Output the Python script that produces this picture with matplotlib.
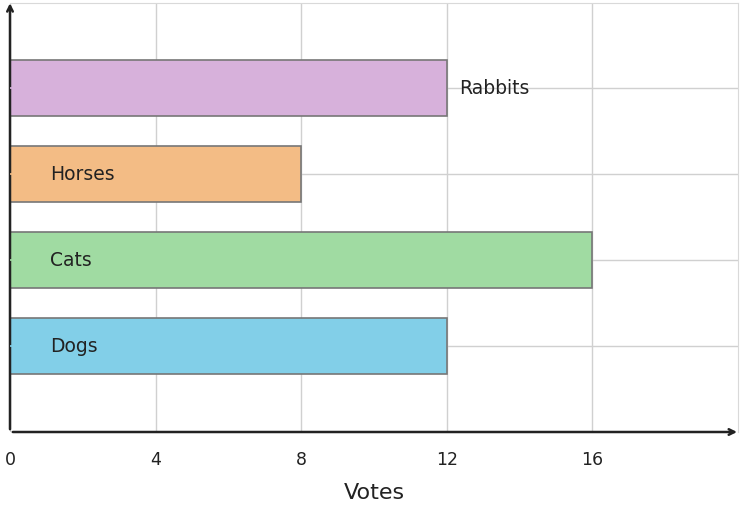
import matplotlib
matplotlib.use("Agg")
import matplotlib.pyplot as plt

categories = ["Dogs", "Cats", "Horses", "Rabbits"]
votes = [12, 16, 8, 12]
colors = ["#82CFE8", "#A0DBA2", "#F3BC85", "#D7B1DB"]
xticks = [0, 4, 8, 12, 16]

fig = plt.figure(figsize=(7.42, 5.08), dpi=100)
ax = fig.add_axes([10/742, 76/508, 728/742, 429/508])
ys = list(range(len(categories)))
ax.barh(ys, votes, height=0.65, color=colors, edgecolor="#777777", linewidth=1.2, zorder=3)
for y, v, c, col in zip(ys, votes, categories, colors):
    if c == "Rabbits":
        ax.text(v + 0.35, y, c, va="center", ha="left", fontsize=13.5, color="#222222", zorder=4)
    else:
        ax.text(1.1, y, c, va="center", ha="left", fontsize=13.5, color="#222222", zorder=4)
    ax.plot([0, 0.12], [y, y], color=col, lw=1.2, zorder=4)
ax.set_xlim(0, 20)
ax.set_ylim(-1, 3.99)
ax.set_xticks(xticks)
ax.set_xticklabels([str(t) for t in xticks], fontsize=12.5, color="#222222")
ax.set_yticks(ys)
ax.set_yticklabels([])
ax.tick_params(length=0, pad=14)
ax.grid(True, color="#d0d0d0", lw=1, zorder=0)
for s in ["top", "right"]:
    ax.spines[s].set_color("#d9d9d9")
for s in ["left", "bottom"]:
    ax.spines[s].set_visible(False)
ax.annotate("", xy=(20.05, -1), xytext=(0, -1), xycoords="data",
            arrowprops=dict(arrowstyle="->", color="#222222", lw=1.8), annotation_clip=False)
ax.annotate("", xy=(0, 4.02), xytext=(0, -1), xycoords="data",
            arrowprops=dict(arrowstyle="->", color="#222222", lw=1.8), annotation_clip=False)
ax.set_xlabel("Votes", fontsize=16, color="#222222", labelpad=10)
fig.savefig("out.png", dpi=100)
